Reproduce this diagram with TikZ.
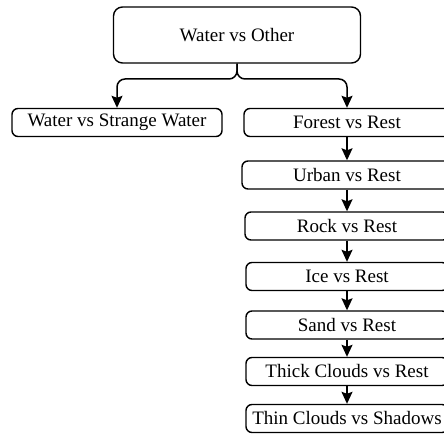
\documentclass[tikz,border=0pt]{standalone}
\usepackage{fontspec}
\setmainfont{Liberation Serif}
\usetikzlibrary{arrows.meta}
\begin{document}
\begin{tikzpicture}[x=1pt,y=-1pt,
  box/.style={draw=black, line width=1.4pt, rounded corners=6pt, fill=white,
    inner sep=0pt, minimum height=28pt, font=\fontsize{19}{22}\selectfont},
  link/.style={line width=1.5pt, -{Stealth[length=12pt,width=11pt,inset=2pt]}}]
  \useasboundingbox (0,0) rectangle (444,435);
  \clip (0,0) rectangle (444,435);
  % root and first split
  \node[box, minimum width=247pt, minimum height=56pt, rounded corners=9pt] (root) at (237,35) {Water vs Other};
  \node[box, minimum width=210pt] (strange) at (117,122.5) {Water vs Strange Water};
  % chain of one-vs-rest classifiers
  \node[box, minimum width=206pt] (forest) at (347,122.5) {Forest vs Rest};
  \node[box, minimum width=210pt] (urban)  at (347,175)   {Urban vs Rest};
  \node[box, minimum width=204pt] (rock)   at (347,226)   {Rock vs Rest};
  \node[box, minimum width=202pt] (ice)    at (347,276.5) {Ice vs Rest};
  \node[box, minimum width=202pt] (sand)   at (347,325)   {Sand vs Rest};
  \node[box, minimum width=202pt] (thick)  at (347,371.5) {Thick Clouds vs Rest};
  \node[box, minimum width=202pt] (thin)   at (347,418.5) {Thin Clouds vs Shadows};
  % split connectors
  \coordinate (fork) at (237,79);
  \draw[link, rounded corners=8pt] (root.south) -- (fork) -| (strange.north);
  \draw[link, rounded corners=8pt] (root.south) -- (fork) -| (forest.north);
  % chain connectors
  \draw[link] (forest) -- (urban);
  \draw[link] (urban) -- (rock);
  \draw[link] (rock) -- (ice);
  \draw[link] (ice) -- (sand);
  \draw[link] (sand) -- (thick);
  \draw[link] (thick) -- (thin);
\end{tikzpicture}
\end{document}
